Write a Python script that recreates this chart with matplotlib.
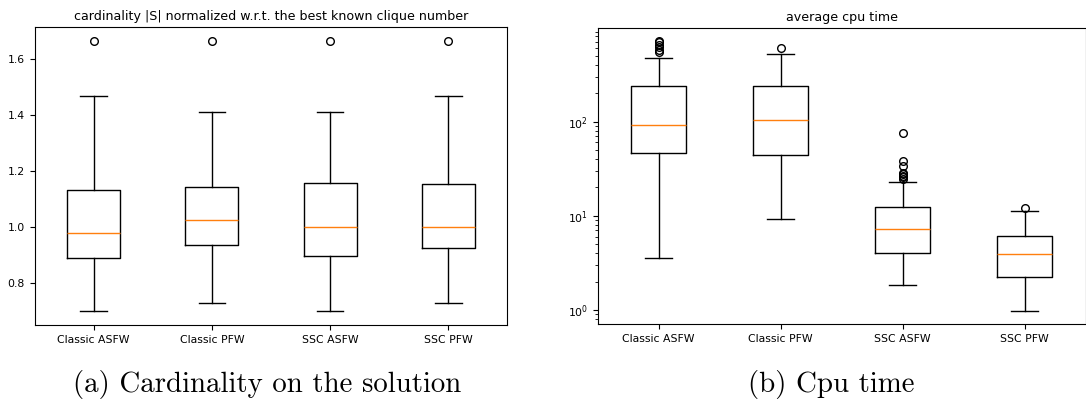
import matplotlib
matplotlib.use("Agg")
import matplotlib.pyplot as plt

methods = ["Classic ASFW", "Classic PFW", "SSC ASFW", "SSC PFW"]

# cardinality |S| / best known clique number
card_whislo = [0.700, 0.730, 0.700, 0.730]
card_q1 = [0.890, 0.937, 0.897, 0.926]
card_med = [0.979, 1.025, 1.000, 1.000]
card_q3 = [1.134, 1.145, 1.158, 1.155]
card_whishi = [1.470, 1.412, 1.412, 1.470]
card_fliers = [[1.667], [1.667], [1.667], [1.667]]

# average cpu time (log scale)
cpu_whislo = [3.52, 9.26, 1.85, 0.98]
cpu_q1 = [46.7, 44.0, 4.02, 2.23]
cpu_med = [91.4, 105.0, 7.17, 3.92]
cpu_q3 = [236.0, 236.0, 12.3, 6.1]
cpu_whishi = [472.0, 521.0, 22.7, 11.3]
cpu_fliers = [[722, 690, 650, 610, 570, 540],
              [600],
              [75.6, 38.4, 33.6, 28.6, 27.4, 26.6, 25.6, 24.8],
              [12.2]]


def make_stats(lo, q1, med, q3, hi, fl):
    stats = []
    for i in range(len(lo)):
        stats.append(dict(whislo=lo[i], q1=q1[i], med=med[i], q3=q3[i],
                          whishi=hi[i], fliers=fl[i]))
    return stats


W, H = 1086, 401
fig = plt.figure(figsize=(W / 100, H / 100), dpi=100)

ax1 = fig.add_axes([34.6 / W, (H - 325) / H, (507.4 - 34.6) / W, (325 - 27) / H])
ax2 = fig.add_axes([597.6 / W, (H - 324.3) / H, (1085.5 - 597.6) / W, (324.3 - 28.3) / H])

flier = dict(marker="o", markersize=5.5, markerfacecolor="none", markeredgecolor="black")

ax1.bxp(make_stats(card_whislo, card_q1, card_med, card_q3, card_whishi, card_fliers),
        flierprops=flier)
ax2.bxp(make_stats(cpu_whislo, cpu_q1, cpu_med, cpu_q3, cpu_whishi, cpu_fliers),
        flierprops=flier)
ax2.set_yscale("log")
ax2.set_ylim(0.705, 975)

for ax in (ax1, ax2):
    ax.set_xticks([1, 2, 3, 4])
    ax.set_xticklabels(methods)
    ax.tick_params(labelsize=7.8)

ax1.set_title("cardinality |S| normalized w.r.t. the best known clique number",
              fontsize=9.1, pad=5)
ax2.set_title("average cpu time", fontsize=9.1, pad=5)

fig.text(267.5 / W, 1 - 392 / H, "(a) Cardinality on the solution",
         fontfamily="cmr10", fontsize=20.8, ha="center", va="baseline")
fig.text(831 / W, 1 - 392 / H, "(b) Cpu time",
         fontfamily="cmr10", fontsize=20.8, ha="center", va="baseline")

fig.savefig("out.png", dpi=100)
